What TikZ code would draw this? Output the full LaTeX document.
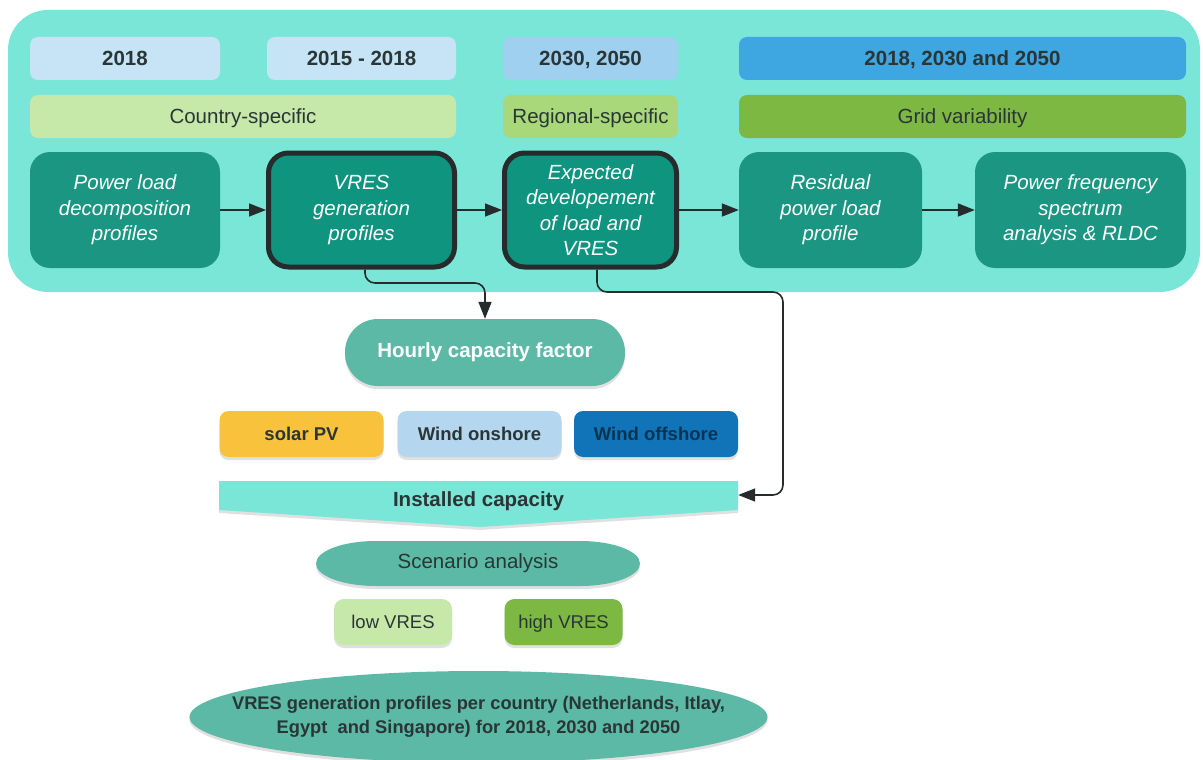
\documentclass[tikz,border=0pt]{standalone}
\usepackage{fontspec}
\setmainfont{Liberation Sans}
\usetikzlibrary{arrows.meta,shapes.geometric,shadows}
\definecolor{panel}{HTML}{7AE6D8}
\definecolor{yrlight}{HTML}{C6E4F6}
\definecolor{yrmid}{HTML}{9FD0F0}
\definecolor{yrdark}{HTML}{3EA6E0}
\definecolor{grlight}{HTML}{C6E8A9}
\definecolor{grmid}{HTML}{A8D87A}
\definecolor{grdark}{HTML}{7CB842}
\definecolor{teal}{HTML}{1B9682}
\definecolor{tealb}{HTML}{0F9480}
\definecolor{soft}{HTML}{5BB9A6}
\definecolor{solar}{HTML}{F9C23C}
\definecolor{onsh}{HTML}{B5D6EF}
\definecolor{offsh}{HTML}{1274B8}
\definecolor{txt}{HTML}{2A3636}
\definecolor{border}{HTML}{262B2B}
\begin{document}
\begin{tikzpicture}[x=1pt,y=-1pt,
  shd/.style={drop shadow={shadow xshift=0pt, shadow yshift=-3pt, opacity=0.12, fill=black}},
  lab/.style={rectangle, rounded corners=8pt, minimum height=43pt, text=txt, font=\fontsize{20.5}{22}\selectfont, inner sep=0pt, text depth=0pt},
  yr/.style={lab, font=\fontsize{20.5}{22}\selectfont\bfseries},
  proc/.style={rectangle, rounded corners=20pt, fill=teal, minimum height=116pt, text=white, align=center, font=\fontsize{20.5}{25.5}\selectfont\itshape, inner sep=0pt},
  hl/.style={proc, fill=tealb, draw=border, line width=5pt, minimum height=114pt},
  arr/.style={draw=border, line width=1.6pt, -{Triangle[length=17pt,width=13pt]}},
  tech/.style={rectangle, rounded corners=9pt, minimum height=46pt, minimum width=164pt, inner sep=0pt, font=\fontsize{18.5}{20}\selectfont\bfseries, text=txt, text depth=0pt, shd},
  scen/.style={rectangle, rounded corners=10pt, minimum height=46pt, minimum width=118pt, inner sep=0pt, font=\fontsize{18.5}{20}\selectfont, text=txt, text depth=0pt, shd}]
\useasboundingbox (0,0) rectangle (1203,760);
\fill[white] (0,0) rectangle (1203,760);
% panel
\fill[panel, rounded corners=40pt] (8,10) rectangle (1200,292);
% row 1
\node[yr, fill=yrlight, minimum width=190pt] (y1) at (125,58.5) {2018};
\node[yr, fill=yrlight, minimum width=189pt] (y2) at (361.5,58.5) {2015 - 2018};
\node[yr, fill=yrmid, minimum width=175pt] (y3) at (590.5,58.5) {2030, 2050};
\node[yr, fill=yrdark, minimum width=447pt] (y4) at (962.5,58.5) {2018, 2030 and 2050};
% row 2
\node[lab, fill=grlight, minimum width=426pt] (s1) at (243,116.5) {Country-specific};
\node[lab, fill=grmid, minimum width=175pt] (s2) at (590.5,116.5) {Regional-specific};
\node[lab, fill=grdark, minimum width=447pt] (s3) at (962.5,116.5) {Grid variability};
% row 3
\node[proc, minimum width=190pt] (pl) at (125,210) {Power load\\decomposition\\profiles};
\node[hl, minimum width=186pt] (vres) at (361.5,210) {VRES\\generation\\profiles};
\node[hl, minimum width=172pt] (exp) at (590.5,210) {Expected\\developement\\of load and\\VRES};
\node[proc, minimum width=183pt] (res) at (830.5,210) {Residual\\power load\\profile};
\node[proc, minimum width=211pt] (pfs) at (1080.5,210) {Power frequency\\spectrum\\analysis \& RLDC};
\draw[arr] (pl) -- (vres);
\draw[arr] (vres) -- (exp);
\draw[arr] (exp) -- (res);
\draw[arr] (res) -- (pfs);
% lower part
\node[rectangle, rounded corners=33pt, fill=soft, shd, minimum width=280pt, minimum height=67pt, text=white, font=\fontsize{20.5}{22}\selectfont\bfseries] (hcf) at (485,352.5) {Hourly capacity factor};
\node[tech, fill=solar] (pv) at (301.5,434) {solar PV};
\node[tech, fill=onsh] (on) at (479.5,434) {Wind onshore};
\node[tech, fill=offsh, text=offsh!45!black] (off) at (656,434) {Wind offshore};
\fill[panel, shd] (219,481) -- (738,481) -- (738,510) -- (480,527) -- (219,510) -- cycle;
\node[rectangle, minimum width=519pt, minimum height=29pt, inner sep=0pt, font=\fontsize{20.5}{22}\selectfont\bfseries, text=txt] (inst) at (478.5,501) {Installed capacity};
\fill[soft, shd] (376,541) -- (580,541) arc[start angle=90, end angle=-90, x radius=60pt, y radius=22.5pt] -- (376,586) arc[start angle=270, end angle=90, x radius=60pt, y radius=22.5pt] -- cycle;
\node[rectangle, minimum width=324pt, minimum height=45pt, inner sep=0pt, font=\fontsize{20.5}{22}\selectfont, text=txt] (sa) at (478,563.5) {Scenario analysis};
\node[scen, fill=grlight] (low) at (393,622) {low VRES};
\node[scen, fill=grdark] (high) at (563.5,622) {high VRES};
\fill[soft, shd] (478.5,717) ellipse [x radius=289pt, y radius=46pt];
\node[rectangle, inner sep=0pt, align=center, font=\fontsize{18.3}{24}\selectfont\bfseries, text=txt] (out) at (478.5,717) {VRES generation profiles per country (Netherlands, Itlay,\\Egypt\ \ and Singapore) for 2018, 2030 and 2050};
% connectors
\coordinate (b1) at (365,283);
\coordinate (b2) at (783,292);
\draw[arr, rounded corners=10pt] ([xshift=3.5pt]vres.south) -- (b1) -| (hcf.north);
\draw[arr, rounded corners=10pt] ([xshift=6.5pt]exp.south) |- (b2) |- ([yshift=6pt]inst.east);
\end{tikzpicture}
\end{document}
